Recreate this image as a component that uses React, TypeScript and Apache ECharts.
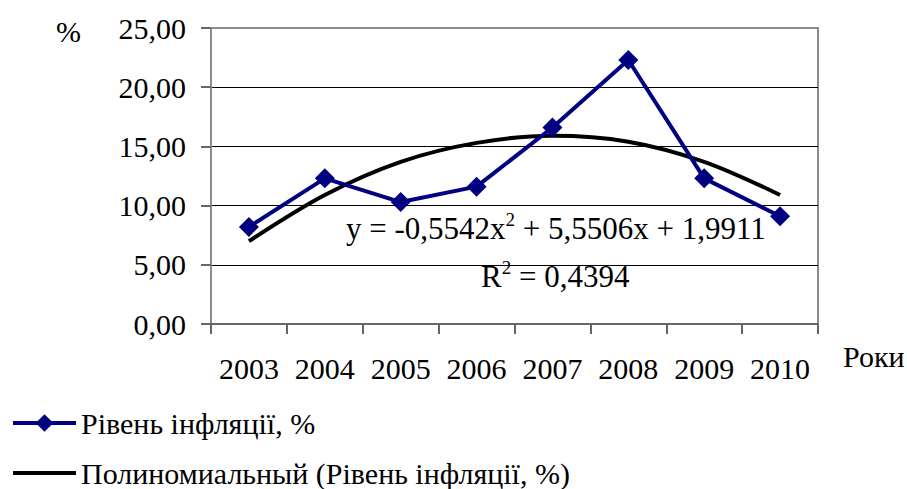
import React, { useEffect, useRef } from "react";
import * as echarts from "echarts";

const years = ["2003", "2004", "2005", "2006", "2007", "2008", "2009", "2010"];
const inflation = [8.2, 12.3, 10.3, 11.6, 16.6, 22.3, 12.3, 9.1];
const trend = [7.0, 10.9, 13.7, 15.3, 15.9, 15.4, 13.7, 10.9];
const seriesName = "Рівень інфляції, %";
const trendName = "Полиномиальный (Рівень інфляції, %)";
const equation = "y = -0,5542x";
const equationRest = " + 5,5506x + 1,9911";
const rText = "R";
const rRest = " = 0,4394";

const FONT = "Liberation Serif";
const FS = 30;
const EQ = 31;

export default function App() {
  const ref = useRef<HTMLDivElement>(null);
  useEffect(() => {
    if (!ref.current) return;
    const chart = echarts.init(ref.current, undefined, { renderer: "svg" });
    const rich = {
      a: { fontFamily: FONT, fontSize: EQ, color: "#000", verticalAlign: "bottom", lineHeight: 34 },
      s: { fontFamily: FONT, fontSize: 19, color: "#000", verticalAlign: "top", lineHeight: 34, padding: [0, 0, 15, 0] },
    };
    chart.setOption({
      animation: false,
      backgroundColor: "#ffffff",
      textStyle: { fontFamily: FONT, color: "#000" },
      grid: {
        left: 211,
        right: 89,
        top: 28,
        bottom: 165,
        show: true,
        borderColor: "#8c8c8c",
        borderWidth: 2,
        backgroundColor: "transparent",
      },
      xAxis: {
        type: "category",
        data: years,
        boundaryGap: true,
        axisLine: { show: true, lineStyle: { color: "#666", width: 2 } },
        axisTick: { show: true, interval: 0, length: 10, inside: false, lineStyle: { color: "#666", width: 2 } },
        axisLabel: { interval: 0, fontFamily: FONT, fontSize: FS, color: "#000", margin: 29 },
        splitLine: { show: false },
      },
      yAxis: {
        type: "value",
        min: 0,
        max: 25,
        interval: 5,
        axisLine: { show: true, lineStyle: { color: "#8c8c8c", width: 2 } },
        axisTick: { show: true, length: 10, lineStyle: { color: "#666", width: 2 } },
        axisLabel: {
          fontFamily: FONT,
          fontSize: FS,
          color: "#000",
          margin: 25,
          formatter: (v: number) => v.toFixed(2).replace(".", ","),
        },
        splitLine: { show: true, showMinLine: false, showMaxLine: false, lineStyle: { color: "#000", width: 1 } },
      },
      legend: {
        orient: "vertical",
        left: 11,
        top: 408,
        padding: 0,
        itemWidth: 63,
        itemHeight: 22,
        itemGap: 20,
        textStyle: { fontFamily: FONT, fontSize: FS, color: "#000", lineHeight: 30 },
        data: [
          { name: seriesName, lineStyle: { width: 4, color: "#000080" } },
          { name: trendName, itemStyle: { opacity: 0 }, lineStyle: { width: 4, color: "#000" } },
        ],
      },
      series: [
        {
          name: trendName,
          type: "line",
          data: trend,
          smooth: 0.33,
          symbol: "none",
          lineStyle: { color: "#000", width: 4 },
          itemStyle: { color: "#000" },
          z: 2,
        },
        {
          name: seriesName,
          type: "line",
          data: inflation,
          symbol: "diamond",
          symbolSize: 20,
          lineStyle: { color: "#000080", width: 4 },
          itemStyle: { color: "#000080" },
          z: 3,
        },
      ],
      graphic: [
        {
          type: "text",
          left: 56,
          top: 16,
          style: { text: "%", fontFamily: FONT, fontSize: FS, fill: "#000" },
        },
        {
          type: "text",
          left: 843,
          top: 341,
          style: { text: "Роки", fontFamily: FONT, fontSize: FS, fill: "#000" },
        },
        {
          type: "text",
          left: 346,
          top: 210,
          style: { text: `{a|${equation}}{s|2}{a|${equationRest}}`, rich },
        },
        {
          type: "text",
          left: 481,
          top: 258,
          style: { text: `{a|${rText}}{s|2}{a|${rRest}}`, rich },
        },
      ],
    });
    return () => chart.dispose();
  }, []);
  return <div ref={ref} style={{ width: 907, height: 489, position: "absolute", left: 0, top: 0 }} />;
}
